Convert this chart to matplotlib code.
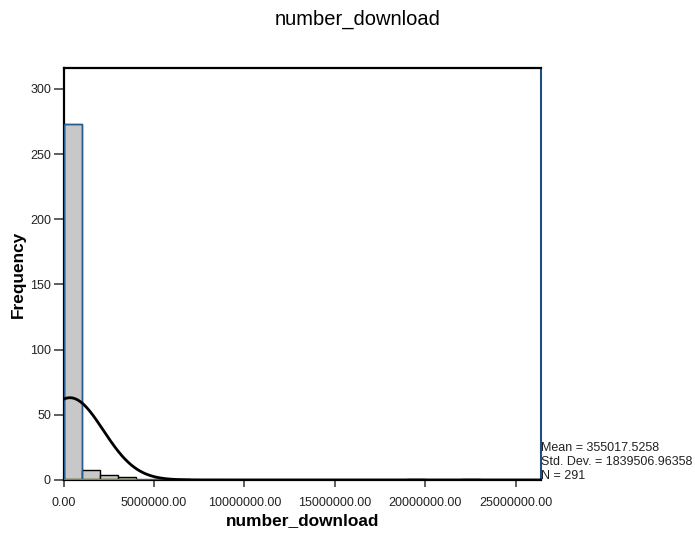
import numpy as np
import matplotlib
matplotlib.use("Agg")
import matplotlib.pyplot as plt

plt.rcParams['font.family'] = ['Liberation Sans', 'DejaVu Sans']

# Histogram data (bin width 1,000,000)
bin_starts = [0, 1000000, 2000000, 3000000, 4000000, 5000000, 6000000, 19000000, 22000000]
counts = [273, 8, 4, 2, 0, 1, 1, 1, 1]
bin_width = 1000000
mean = 355017.5258
std = 1839506.96358
n = 291

x_ticks = [0, 5000000, 10000000, 15000000, 20000000, 25000000]
y_ticks = [0, 50, 100, 150, 200, 250, 300]

W, H = 695, 534
fig = plt.figure(figsize=(W/100, H/100), dpi=100)
L, R, T, B = 63.5, 541, 68, 480
ax = fig.add_axes([L/W, 1-B/H, (R-L)/W, (B-T)/H])

ax.bar(bin_starts, counts, width=bin_width, align='edge',
       color='#c8c8c8', edgecolor='black', linewidth=1.0, zorder=2)
# bluish outline of the tall bar
ax.bar(bin_starts[0], counts[0], width=bin_width, align='edge',
       facecolor='none', edgecolor='#2a5d8f', linewidth=0.9, zorder=3)

# thin bluish baseline and olive bottom edge under the first bars
ax.axhline(0.6, color='#2a5d8f', linewidth=0.8, zorder=3)
ax.hlines(0.6, bin_starts[0], bin_starts[4], color='#8a8a1a', linewidth=1.0, zorder=3.5)

xs = np.linspace(0, 26.4e6, 800)
pdf = n * bin_width / (std * np.sqrt(2*np.pi)) * np.exp(-0.5*((xs-mean)/std)**2)
ax.plot(xs, pdf, color='black', linewidth=2.0, zorder=4)

ax.set_xlim(0, 26.4e6)
ax.set_ylim(0, 316)
ax.set_xticks(x_ticks)
ax.set_xticklabels([f"{v:.2f}" for v in x_ticks], fontsize=9, color='#222222')
ax.set_yticks(y_ticks)
ax.set_yticklabels([str(v) for v in y_ticks], fontsize=9, color='#222222')
ax.tick_params(axis='x', direction='out', length=5, width=1.2, color='#444444', pad=7)
ax.tick_params(axis='y', direction='out', length=7, width=1.2, color='#444444', pad=2)

for s in ['left', 'top', 'bottom']:
    ax.spines[s].set_color('black')
    ax.spines[s].set_linewidth(1.6)
ax.spines['right'].set_color('#1f4f82')
ax.spines['right'].set_linewidth(1.5)

ax.set_xlabel('number_download', fontsize=12.4, fontweight='bold', labelpad=3)
ax.set_ylabel('Frequency', fontsize=12.4, fontweight='bold', labelpad=3)

fig.text(358/W, 1-19/H, 'number_download', fontsize=14.5, ha='center', va='center')

for i, line in enumerate([f"Mean = {mean:.4f}", f"Std. Dev. = {std:.5f}", f"N = {n}"]):
    fig.text(541/W, 1-(448+14*i)/H, line, fontsize=9, ha='left', va='center',
             color='#222222')

fig.savefig('out.png', dpi=100)
